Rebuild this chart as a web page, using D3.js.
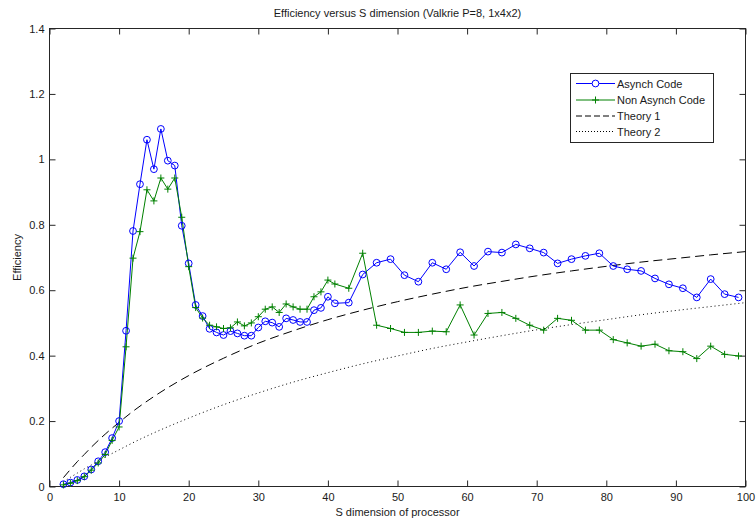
<!DOCTYPE html>
<html>
<head>
<meta charset="utf-8">
<script src="https://cdn.jsdelivr.net/npm/d3@7"></script>
<style>
  html, body { margin: 0; padding: 0; background: #fff; }
  svg { display: block; }
  text { font-family: "Liberation Sans", Arial, sans-serif; fill: #1a1a1a; }
</style>
</head>
<body>
<svg id="chart" width="756" height="519"></svg>
<script>
// ---- data ----
const title = "Efficiency versus S dimension (Valkrie P=8, 1x4x2)";
const xLabel = "S dimension of processor";
const yLabel = "Efficiency";

const xTicks = [0, 10, 20, 30, 40, 50, 60, 70, 80, 90, 100];
const yTicks = [0, 0.2, 0.4, 0.6, 0.8, 1, 1.2, 1.4];

const sValues = [2, 3, 4, 5, 6, 7, 8, 9, 10, 11, 12, 13, 14, 15, 16, 17, 18, 19, 20, 21,
  22, 23, 24, 25, 26, 27, 28, 29, 30, 31, 32, 33, 34, 35, 36, 37, 38, 39, 40, 41,
  43, 45, 47, 49, 51, 53, 55, 57, 59, 61, 63, 65, 67, 69, 71, 73, 75, 77, 79, 81,
  83, 85, 87, 89, 91, 93, 95, 97, 99];

const asynchCode = [0.007, 0.012, 0.020, 0.031, 0.052, 0.077, 0.105, 0.148, 0.200, 0.476,
  0.781, 0.924, 1.060, 0.970, 1.093, 0.996, 0.981, 0.797, 0.682, 0.555,
  0.521, 0.482, 0.471, 0.463, 0.475, 0.468, 0.461, 0.461, 0.486, 0.505,
  0.501, 0.488, 0.514, 0.509, 0.503, 0.503, 0.539, 0.546, 0.580, 0.560,
  0.562, 0.648, 0.684, 0.695, 0.646, 0.626, 0.684, 0.664, 0.716, 0.674,
  0.718, 0.715, 0.740, 0.728, 0.715, 0.682, 0.695, 0.705, 0.713, 0.674,
  0.664, 0.659, 0.636, 0.618, 0.606, 0.578, 0.634, 0.588, 0.578];

const nonAsynchCode = [0.005, 0.010, 0.018, 0.030, 0.050, 0.072, 0.098, 0.141, 0.182, 0.427,
  0.698, 0.779, 0.907, 0.873, 0.943, 0.909, 0.943, 0.823, 0.672, 0.547,
  0.515, 0.493, 0.488, 0.483, 0.485, 0.503, 0.491, 0.500, 0.519, 0.542,
  0.549, 0.532, 0.558, 0.549, 0.542, 0.542, 0.580, 0.595, 0.631, 0.619,
  0.606, 0.713, 0.493, 0.483, 0.471, 0.471, 0.475, 0.473, 0.555, 0.463,
  0.529, 0.532, 0.514, 0.493, 0.478, 0.514, 0.508, 0.478, 0.478, 0.449,
  0.439, 0.429, 0.435, 0.415, 0.412, 0.391, 0.429, 0.404, 0.399];

const theoryS = [2, 3, 4, 5, 6, 8, 10, 12, 15, 20, 25, 30, 35, 40, 45, 50,
  55, 60, 65, 70, 75, 80, 85, 90, 95, 100];
const theory1 = [0.027, 0.052, 0.076, 0.098, 0.120, 0.160, 0.196, 0.230, 0.275, 0.339,
  0.392, 0.438, 0.476, 0.510, 0.539, 0.565, 0.588, 0.609, 0.627, 0.644,
  0.659, 0.673, 0.686, 0.697, 0.708, 0.718];
const theory2 = [0.014, 0.028, 0.041, 0.054, 0.066, 0.090, 0.112, 0.134, 0.164, 0.209,
  0.250, 0.286, 0.319, 0.348, 0.375, 0.399, 0.422, 0.442, 0.461, 0.479,
  0.495, 0.510, 0.525, 0.538, 0.550, 0.562];

const seriesNames = ["Asynch Code", "Non Asynch Code", "Theory 1", "Theory 2"];
const seriesColors = ["#0000ff", "#008000", "#000000", "#000000"];

// ---- layout ----
const svg = d3.select("#chart");
const pL = 49.5, pR = 745.5, pT = 28.5, pB = 486.5;

const x = d3.scaleLinear().domain([0, 100]).range([pL, pR]);
const y = d3.scaleLinear().domain([0, 1.4]).range([pB, pT]);

// frame
svg.append("rect")
  .attr("x", pL).attr("y", pT)
  .attr("width", pR - pL).attr("height", pB - pT)
  .attr("fill", "none").attr("stroke", "#262626").attr("stroke-width", 1);

const fmt = d => d3.format("~g")(d);

const axB = svg.append("g").attr("transform", `translate(0,${pB})`)
  .call(d3.axisBottom(x).tickValues(xTicks).tickSizeInner(-6).tickSizeOuter(0).tickPadding(7).tickFormat(fmt));
const axT = svg.append("g").attr("transform", `translate(0,${pT})`)
  .call(d3.axisTop(x).tickValues(xTicks).tickSizeInner(-6).tickSizeOuter(0).tickFormat(""));
const axL = svg.append("g").attr("transform", `translate(${pL},0)`)
  .call(d3.axisLeft(y).tickValues(yTicks).tickSizeInner(-6).tickSizeOuter(0).tickPadding(5).tickFormat(fmt));
const axR = svg.append("g").attr("transform", `translate(${pR},0)`)
  .call(d3.axisRight(y).tickValues(yTicks).tickSizeInner(-6).tickSizeOuter(0).tickFormat(""));

[axB, axT, axL, axR].forEach(g => {
  g.select(".domain").remove();
  g.selectAll(".tick line").attr("stroke", "#262626");
  g.selectAll(".tick text").style("font-family", '"Liberation Sans", Arial, sans-serif')
    .style("font-size", "11px").attr("fill", "#1a1a1a");
});

// titles
svg.append("text").attr("x", (pL + pR) / 2).attr("y", 17)
  .attr("text-anchor", "middle").style("font-size", "11px").text(title);
svg.append("text").attr("x", (pL + pR) / 2).attr("y", 516)
  .attr("text-anchor", "middle").style("font-size", "11px").text(xLabel);
svg.append("text").attr("transform", `translate(21,${(pT + pB) / 2}) rotate(-90)`)
  .attr("text-anchor", "middle").style("font-size", "11px").text(yLabel);

// ---- series ----
const plot = svg.append("g");
const line = d3.line().x(d => x(d[0])).y(d => y(d[1]));

const t1 = theoryS.map((s, i) => [s, theory1[i]]);
const t2 = theoryS.map((s, i) => [s, theory2[i]]);
const a = sValues.map((s, i) => [s, asynchCode[i]]);
const n = sValues.map((s, i) => [s, nonAsynchCode[i]]);

const curved = d3.line().x(d => x(d[0])).y(d => y(d[1])).curve(d3.curveMonotoneX);

plot.append("path").attr("d", curved(t1)).attr("fill", "none")
  .attr("stroke", "#000").attr("stroke-width", 1).attr("stroke-dasharray", "9,5");
plot.append("path").attr("d", curved(t2)).attr("fill", "none")
  .attr("stroke", "#000").attr("stroke-width", 1).attr("stroke-dasharray", "1,3");

plot.append("path").attr("d", line(a)).attr("fill", "none")
  .attr("stroke", seriesColors[0]).attr("stroke-width", 1);
plot.append("path").attr("d", line(n)).attr("fill", "none")
  .attr("stroke", seriesColors[1]).attr("stroke-width", 1);

plot.selectAll(".circ").data(a).join("circle")
  .attr("cx", d => x(d[0])).attr("cy", d => y(d[1])).attr("r", 3.4)
  .attr("fill", "none").attr("stroke", seriesColors[0]).attr("stroke-width", 1);

const plusPath = "M-3.5,0H3.5M0,-3.5V3.5";
plot.selectAll(".plus").data(n).join("path")
  .attr("transform", d => `translate(${x(d[0])},${y(d[1])})`)
  .attr("d", plusPath).attr("fill", "none")
  .attr("stroke", seriesColors[1]).attr("stroke-width", 1);

// ---- legend ----
const lg = svg.append("g");
const lgX = 570.5, lgY = 73.5, lgW = 143, lgH = 69;
lg.append("rect").attr("x", lgX).attr("y", lgY).attr("width", lgW).attr("height", lgH)
  .attr("fill", "#fff").attr("stroke", "#262626").attr("stroke-width", 1);
const rowY = [83.5, 100, 116, 131.5];
const dashes = [null, null, "6,3", "1,2"];
seriesNames.forEach((name, i) => {
  const yy = rowY[i];
  lg.append("line").attr("x1", 576).attr("x2", 615).attr("y1", yy).attr("y2", yy)
    .attr("stroke", seriesColors[i]).attr("stroke-width", 1)
    .attr("stroke-dasharray", dashes[i]);
  if (i === 0) {
    lg.append("circle").attr("cx", 595.5).attr("cy", yy).attr("r", 3.4)
      .attr("fill", "#fff").attr("stroke", seriesColors[0]);
  } else if (i === 1) {
    lg.append("path").attr("transform", `translate(595.5,${yy})`).attr("d", plusPath)
      .attr("stroke", seriesColors[1]).attr("fill", "none");
  }
  lg.append("text").attr("x", 617).attr("y", yy + 4).style("font-size", "11px").text(name);
});
</script>
</body>
</html>
